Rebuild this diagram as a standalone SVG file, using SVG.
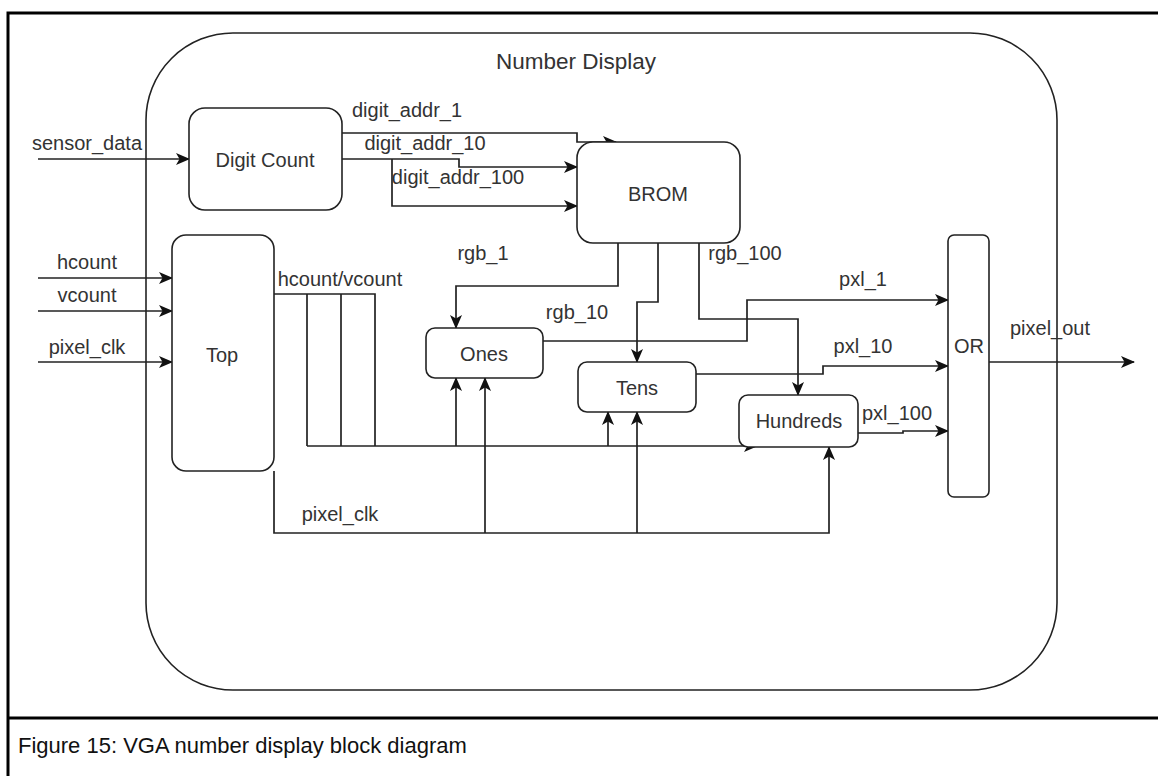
<svg xmlns="http://www.w3.org/2000/svg" width="1158" height="776" viewBox="0 0 1158 776">
<defs>
<style>
.frame{fill:none;stroke:#000;stroke-width:3}
.box{fill:#fff;stroke:#222;stroke-width:1.6}
.wire{fill:none;stroke:#222;stroke-width:1.7}
.t{font-family:"Liberation Sans",Arial,sans-serif;font-size:20px;fill:#333;text-anchor:middle}
.cap{font-family:"Liberation Sans",Arial,sans-serif;font-size:22px;fill:#111}
</style>
<marker id="ah" viewBox="0 0 14 12" refX="13" refY="6" markerWidth="14" markerHeight="12" markerUnits="userSpaceOnUse" orient="auto">
<path d="M0,0 L14,6 L0,12 L3.5,6 z" fill="#111"/>
</marker>
</defs>
<rect width="1158" height="776" fill="#fff"/>
<rect class="frame" x="8" y="13" width="1160" height="780"/>
<line class="frame" x1="8" y1="718" x2="1158" y2="718"/>
<text class="cap" x="18" y="753">Figure 15: VGA number display block diagram</text>

<g id="number-display">
<rect class="box" x="146" y="33" width="911" height="657" rx="87" ry="87"/>
<text class="t" x="576" y="69" style="font-size:22.5px">Number Display</text>
</g>

<g id="connectors">
<polyline class="wire" points="38,159 189,159" marker-end="url(#ah)"/>
<polyline class="wire" points="38,278 172,278" marker-end="url(#ah)"/>
<polyline class="wire" points="38,311 172,311" marker-end="url(#ah)"/>
<polyline class="wire" points="38,362 172,362" marker-end="url(#ah)"/>
<polyline class="wire" points="342,133 577,133 577,142 616,142" marker-end="url(#ah)"/>
<polyline class="wire" points="342,159 459,159 459,167 577,167" marker-end="url(#ah)"/>
<polyline class="wire" points="392,159 392,206 577,206" marker-end="url(#ah)"/>
<polyline class="wire" points="618,243 618,286 456,286 456,328" marker-end="url(#ah)"/>
<polyline class="wire" points="658,243 658,302 637,302 637,362" marker-end="url(#ah)"/>
<polyline class="wire" points="699,243 699,319 798,319 798,395" marker-end="url(#ah)"/>
<polyline class="wire" points="274,294 375,294 375,446"/>
<polyline class="wire" points="307,294 307,446"/>
<polyline class="wire" points="341,294 341,446"/>
<polyline class="wire" points="307,446 757,446" marker-end="url(#ah)"/>
<polyline class="wire" points="456,446 456,378" marker-end="url(#ah)"/>
<polyline class="wire" points="608,446 608,412" marker-end="url(#ah)"/>
<polyline class="wire" points="274,471 274,533 829,533 829,447" marker-end="url(#ah)"/>
<polyline class="wire" points="485,533 485,378" marker-end="url(#ah)"/>
<polyline class="wire" points="637,533 637,412" marker-end="url(#ah)"/>
<polyline class="wire" points="543,341 747,341 747,300 948,300" marker-end="url(#ah)"/>
<polyline class="wire" points="696,374 823,374 823,366 948,366" marker-end="url(#ah)"/>
<polyline class="wire" points="858,433 903,433 903,431 948,431" marker-end="url(#ah)"/>
<polyline class="wire" points="989,362 1134,362" marker-end="url(#ah)"/>
</g>

<g id="labels">
<text class="t" x="87" y="150">sensor_data</text>
<text class="t" x="407" y="117">digit_addr_1</text>
<text class="t" x="425" y="150">digit_addr_10</text>
<text class="t" x="458" y="184">digit_addr_100</text>
<text class="t" x="87" y="269">hcount</text>
<text class="t" x="87" y="302">vcount</text>
<text class="t" x="87" y="354">pixel_clk</text>
<text class="t" x="340" y="286">hcount/vcount</text>
<text class="t" x="483" y="260">rgb_1</text>
<text class="t" x="577" y="319">rgb_10</text>
<text class="t" x="745" y="260">rgb_100</text>
<text class="t" x="863" y="286">pxl_1</text>
<text class="t" x="863" y="353">pxl_10</text>
<text class="t" x="897" y="420">pxl_100</text>
<text class="t" x="1050" y="335">pixel_out</text>
<text class="t" x="340" y="521">pixel_clk</text>
</g>

<g id="digit-count"><rect class="box" x="189" y="108" width="153" height="102" rx="16"/><text class="t" x="265" y="167">Digit Count</text></g>
<g id="brom"><rect class="box" x="577" y="142" width="163" height="101" rx="16"/><text class="t" x="658" y="201">BROM</text></g>
<g id="top"><rect class="box" x="172" y="235" width="102" height="236" rx="14"/><text class="t" x="222" y="362">Top</text></g>
<g id="ones"><rect class="box" x="426" y="328" width="117" height="50" rx="9"/><text class="t" x="484" y="361">Ones</text></g>
<g id="tens"><rect class="box" x="578" y="362" width="118" height="50" rx="9"/><text class="t" x="637" y="395">Tens</text></g>
<g id="hundreds"><rect class="box" x="739" y="395" width="119" height="52" rx="9"/><text class="t" x="799" y="428">Hundreds</text></g>
<g id="or"><rect class="box" x="948" y="235" width="41" height="262" rx="6"/><text class="t" x="969" y="353">OR</text></g>
</svg>
